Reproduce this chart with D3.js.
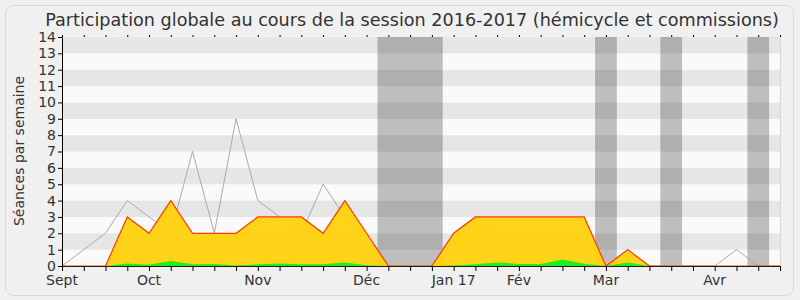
<!DOCTYPE html>
<html lang="fr">
<head>
  <meta charset="UTF-8">
  <title>Participation globale</title>
  <style>
    body {
        margin: 0;
        background-color: #f0f0f0;
    }
    svg text {
        font-family: "DejaVu Sans", sans-serif;
        fill: #333;
    }
  </style>
  <script src="https://cdn.jsdelivr.net/npm/d3@7"></script>
</head>
<body>
    <svg width="800" height="300"></svg>
    <script>
    // weekly values, one per week from early September
    var weeks = [0,1,2,3,4,5,6,7,8,9,10,11,12,13,14,15,16,17,18,19,20,21,22,23,24,25,26,27,28,29,30,31,32,33];
    var mediane = [0,1,2,4,3,2,7,2,9,4,3,2,5,3,2,0,0,0,2,3,2,2,2,2,2,0,1,0,0,0,0,1,0,0];
    var presence = [0,0,0,3,2,4,2,2,2,3,3,3,2,4,2,0,0,0,2,3,3,3,3,3,3,0,1,0,0,0,0,0,0,0];
    var participation = [0,0,0,0.15,0.08,0.3,0.1,0.12,0.03,0.1,0.15,0.1,0.1,0.22,0.05,0,0,0,0.03,0.1,0.22,0.12,0.12,0.39,0.14,0,0.22,0,0,0,0,0,0,0];
    var vacances = [[14.5, 17.5], [24.5, 25.5], [27.5, 28.5], [31.5, 32.5]];
    var moisLabels = ["Sept", "Oct", "Nov", "Déc", "Jan 17", "Fév", "Mar", "Avr"];
    var moisWeeks = [0, 4, 9, 14, 18, 21, 25, 30];
    var yTicks = [0,1,2,3,4,5,6,7,8,9,10,11,12,13,14];

    var svg = d3.select("svg");
    var plotLeft = 62, plotRight = 780, plotTop = 37, plotBottom = 266;

    var x = d3.scaleLinear().domain([0, 33]).range([plotLeft, plotRight]);
    var y = d3.scaleLinear().domain([0, 14]).range([plotBottom, plotTop]);

    svg.append("rect")
        .attr("x", 5.5).attr("y", 5.5)
        .attr("width", 788).attr("height", 290)
        .attr("rx", 8)
        .attr("fill", "#f0f0f0")
        .attr("stroke", "#d9d9d9");

    svg.append("text")
        .attr("x", 412).attr("y", 26)
        .attr("text-anchor", "middle")
        .style("font-size", "17.6px")
        .text("Participation globale au cours de la session 2016-2017 (hémicycle et commissions)");

    // horizontal stripes
    svg.append("g").selectAll("rect")
        .data(yTicks.slice(0, 14))
        .enter().append("rect")
        .attr("x", plotLeft)
        .attr("width", plotRight - plotLeft)
        .attr("y", function(d) { return y(d + 1); })
        .attr("height", function(d) { return y(d) - y(d + 1); })
        .attr("fill", function(d) { return d % 2 ? "#e6e6e6" : "#fafafa"; });

    // vacations
    svg.append("g").selectAll("rect")
        .data(vacances)
        .enter().append("rect")
        .attr("x", function(d) { return x(d[0]); })
        .attr("width", function(d) { return x(d[1]) - x(d[0]); })
        .attr("y", plotTop)
        .attr("height", plotBottom - plotTop)
        .attr("fill", "#000")
        .attr("fill-opacity", 0.24);

    svg.append("line")
        .attr("x1", plotRight + 0.5).attr("x2", plotRight + 0.5)
        .attr("y1", plotTop).attr("y2", plotBottom)
        .attr("stroke", "#d8d8d8");

    var line = function(vals) {
        return d3.line()
            .x(function(d, i) { return x(weeks[i]); })
            .y(function(d) { return y(d); })(vals);
    };
    var area = function(vals) {
        return d3.area()
            .x(function(d, i) { return x(weeks[i]); })
            .y0(y(0))
            .y1(function(d) { return y(d); })(vals);
    };

    svg.append("path")
        .attr("d", line(mediane))
        .attr("fill", "none")
        .attr("stroke", "#aaa")
        .attr("stroke-width", 1);

    svg.append("path")
        .attr("d", area(presence))
        .attr("fill", "#ffd20c")
        .attr("fill-opacity", 0.95);

    svg.append("path")
        .attr("d", area(participation))
        .attr("fill", "#1ef01e");

    svg.append("path")
        .attr("d", line(presence))
        .attr("fill", "none")
        .attr("stroke", "#ff3c00")
        .attr("stroke-width", 1.2);

    // axes
    var xAxis = svg.append("g")
        .attr("transform", "translate(0," + plotBottom + ")")
        .call(d3.axisBottom(x).tickValues(weeks).tickSize(5).tickFormat(""));
    xAxis.select(".domain").attr("stroke", "#2a1a10");

    svg.append("g")
        .attr("transform", "translate(0," + plotTop + ")")
        .call(d3.axisTop(x).tickValues(weeks).tickSize(2).tickFormat(""))
        .select(".domain").remove();

    svg.append("g").selectAll("text")
        .data(moisLabels)
        .enter().append("text")
        .attr("x", function(d, i) { return x(moisWeeks[i]); })
        .attr("y", 285)
        .attr("text-anchor", "middle")
        .style("font-size", "14px")
        .text(function(d) { return d; });

    var yAxis = svg.append("g")
        .attr("transform", "translate(" + plotLeft + ",0)")
        .call(d3.axisLeft(y).tickValues(yTicks).tickSize(4).tickPadding(2));
    yAxis.selectAll("text").style("font-size", "14px").attr("fill", "#333");
    yAxis.select(".domain").attr("stroke", "#000");

    svg.append("text")
        .attr("transform", "translate(24,151) rotate(-90)")
        .attr("text-anchor", "middle")
        .style("font-size", "14px")
        .text("Séances par semaine");
    </script>
</body>
</html>
